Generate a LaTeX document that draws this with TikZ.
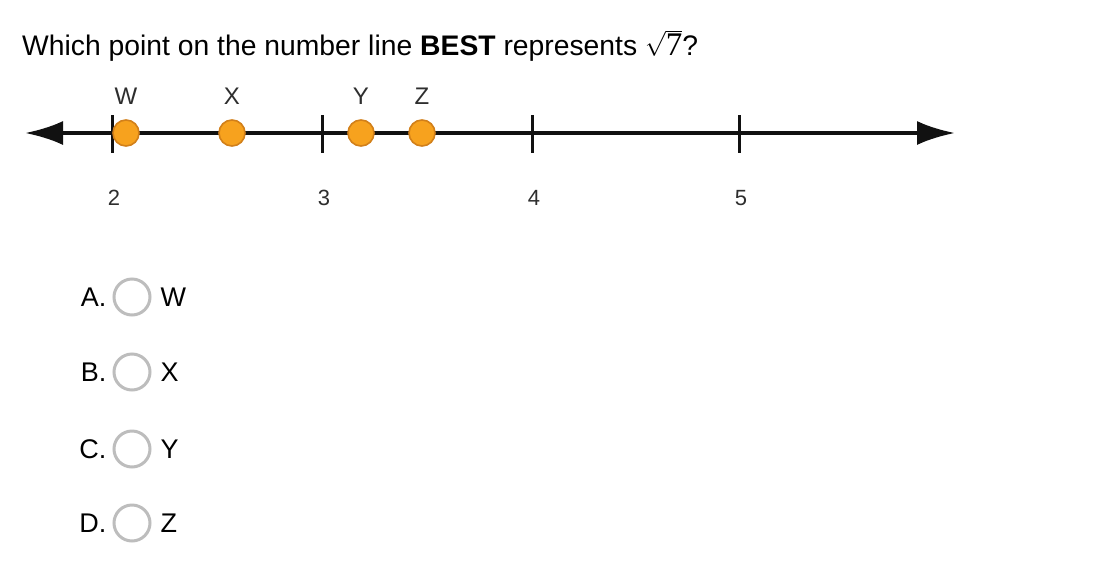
\documentclass[tikz,border=0pt]{standalone}
\usepackage{fontspec}
\setmainfont{Liberation Sans}
\newfontfamily\rootfont{Liberation Serif}
\usepackage{tikz}
\usetikzlibrary{arrows.meta,positioning,calc}
\definecolor{Ink}{HTML}{111111}
\definecolor{Dot}{HTML}{F7A21E}
\definecolor{DotRim}{HTML}{D2801A}
\definecolor{Muted}{HTML}{2E2E2E}
\definecolor{Ring}{HTML}{BDBDBD}
\tikzset{
  pt/.style={circle,draw=DotRim,line width=1.6pt,fill=Dot,minimum size=26pt,inner sep=0pt},
  ptlbl/.style={font=\fontsize{24}{24}\selectfont,text=Muted,inner sep=0pt},
  num/.style={font=\fontsize{22}{22}\selectfont,text=Muted,inner sep=0pt},
  ring/.style={circle,draw=Ring,line width=3pt,minimum size=36pt,inner sep=0pt},
  opt/.style={font=\fontsize{27}{27}\selectfont,text=black,inner sep=0pt},
  tick/.style={line width=3pt,draw=Ink},
}
\begin{document}
\begin{tikzpicture}[x=1pt,y=-1pt]
\useasboundingbox[fill=white] (0,0) rectangle (1104,582);
\node[anchor=base west,inner sep=0pt,font=\fontsize{28.3}{28.3}\selectfont] (q) at (22,55) {Which point on the number line \textbf{BEST} represents $\sqrt{\hbox{\rootfont\fontsize{33}{33}\selectfont 7}}$?};
% number line
\coordinate (la) at (25,133);
\coordinate (ra) at (955,133);
\draw[line width=4pt,draw=Ink,{Latex[length=38pt,width=24pt]}-{Latex[length=38pt,width=24pt]}] (la) -- (ra);
\foreach \v/\x in {2/112,3/322,4/532,5/739}{
  \draw[tick] (\x,115) -- (\x,153);
  \node[num] (n\v) at (\x+2,198) {\v};
}
\foreach \p/\x in {W/126,X/232,Y/361,Z/422}{
  \node[pt] (p\p) at (\x,133) {};
  \node[ptlbl,above=15pt of p\p] (l\p) {\p};
}
% answer choices
\foreach \k/\p/\y in {A/W/297,B/X/372,C/Y/449,D/Z/523}{
  \node[ring] (r\k) at (132,\y) {};
  \node[opt,left=6pt of r\k] (c\k) {\k.};
  \node[opt,right=9pt of r\k] (a\k) {\p};
}
\end{tikzpicture}
\end{document}
